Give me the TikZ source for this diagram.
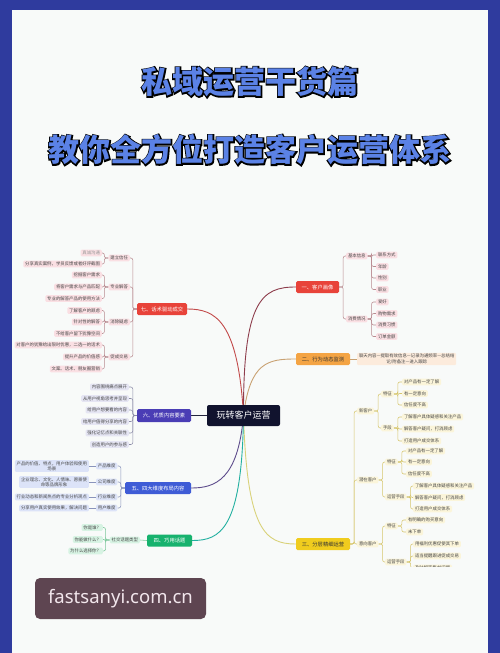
\documentclass[tikz,border=0pt]{standalone}
\usepackage{fontspec}
\newfontfamily\cjk{Noto Sans CJK SC}
\newfontfamily\cjkstroke{Noto Sans CJK SC}[FakeBold=8]
\newfontfamily\wmfont{Noto Sans}
\definecolor{pagebg}{HTML}{F8FAF9}
\definecolor{frameblue}{HTML}{2F3B9E}
\definecolor{titleblue}{HTML}{5B82E6}
\definecolor{cnode}{HTML}{11132E}
\definecolor{redn}{HTML}{E8433A}
\definecolor{orangen}{HTML}{F4A444}
\definecolor{yellown}{HTML}{F0CC1E}
\definecolor{purplen}{HTML}{4A3DB5}
\definecolor{bluen}{HTML}{3F5CD6}
\definecolor{greenn}{HTML}{17B26E}
\definecolor{pinkleaf}{HTML}{FADFE3}
\definecolor{creamleaf}{HTML}{FBF5DA}
\definecolor{orangeleaf}{HTML}{FCEBDC}
\definecolor{lavleaf}{HTML}{E5E5F3}
\definecolor{blueleaf}{HTML}{DCE3F8}
\definecolor{greenleaf}{HTML}{D7F3E3}
\definecolor{redline}{HTML}{B98A90}
\definecolor{yline}{HTML}{D6C66C}
\definecolor{pline}{HTML}{8C8CA8}
\definecolor{bline}{HTML}{8A94BC}
\definecolor{gline}{HTML}{7CC79A}
\definecolor{c7}{HTML}{C24A4A}
\definecolor{c1}{HTML}{8E3D4C}
\definecolor{c2}{HTML}{C9A273}
\definecolor{c3}{HTML}{D9D27A}
\definecolor{c5}{HTML}{5E4C8C}
\definecolor{c4}{HTML}{22B0A0}
\definecolor{c6}{HTML}{23253F}
\definecolor{wmbg}{HTML}{5E4551}
\definecolor{wmtext}{HTML}{F2E6EC}
\pgfdeclarelayer{back}
\pgfdeclarelayer{lines}
\pgfdeclarelayer{front}
\pgfsetlayers{back,lines,main,front}
\begin{document}
\begin{tikzpicture}[x=1pt,y=-1pt,
  titleback/.style={font=\cjkstroke\bfseries\fontsize{31}{31}\selectfont, inner sep=0pt, text=black},
  titlefont/.style={font=\cjk\bfseries\fontsize{31}{31}\selectfont, inner sep=0pt, text=titleblue},
  mainbox/.style={rounded corners=1.5pt, minimum height=12pt, inner sep=1pt,
    font=\cjk\fontsize{5.3}{6}\selectfont, text=white},
  leaf/.style={rounded corners=1.2pt, inner xsep=1.8pt, inner ysep=1.3pt,
    font=\cjk\fontsize{4.4}{5.2}\selectfont, text=black!72, align=center},
  conn/.style={line width=0.55pt, rounded corners=2pt},
  cv/.style={line width=0.9pt}]
\useasboundingbox (0,0) rectangle (500,653);
\begin{pgfonlayer}{back}
\fill[pagebg] (0,0) rectangle (500,653);
\end{pgfonlayer}

% title
\node[titleback] (tabk) at (250,82) {私域运营干货篇};
\node[titlefont] (ta) at (250,82) {私域运营干货篇};
\node[titleback] (tbbk) at (250,150) {教你全方位打造客户运营体系};
\node[titlefont] (tb) at (250,150) {教你全方位打造客户运营体系};

% center
\node[fill=cnode, rounded corners=2pt, minimum width=73pt, minimum height=21pt,
  text=white, font=\cjk\fontsize{9}{10}\selectfont] (c) at (243.5,415.5) {玩转客户运营};

% ---------- branch 1
\node[mainbox, fill=redn, minimum width=43pt] (n1) at (317.5,287) {一、客户画像};
\node[leaf, fill=pinkleaf, anchor=west] (n1a) at (346,256) {基本信息};
\node[leaf, fill=pinkleaf, anchor=west] (n1b) at (346,319) {消费情况};
\node[leaf, fill=pinkleaf, anchor=west] (n1a1) at (376,255) {联系方式};
\node[leaf, fill=pinkleaf, anchor=west] (n1a2) at (376,266.5) {年龄};
\node[leaf, fill=pinkleaf, anchor=west] (n1a3) at (376,278) {性别};
\node[leaf, fill=pinkleaf, anchor=west] (n1a4) at (376,289.5) {职业};
\node[leaf, fill=pinkleaf, anchor=west] (n1b1) at (376,302) {爱好};
\node[leaf, fill=pinkleaf, anchor=west] (n1b2) at (376,313.5) {购物需求};
\node[leaf, fill=pinkleaf, anchor=west] (n1b3) at (376,325) {消费习惯};
\node[leaf, fill=pinkleaf, anchor=west] (n1b4) at (376,336.5) {订单金额};

% ---------- branch 2
\node[mainbox, fill=orangen, minimum width=54pt, text=black!80] (n2) at (323,359) {二、行为动态监测};
\node[leaf, fill=orangeleaf, anchor=west] (n2a) at (357,359) {聊天内容—提取有效信息—记录沟通频率—总结结\\论/附备注—进入跟踪};

% ---------- branch 3
\node[mainbox, fill=yellown, minimum width=54pt, text=black!80] (n3) at (323,544) {三、分层精细运营};
\node[leaf, fill=creamleaf, anchor=west] (n3a) at (357,411) {新客户};
\node[leaf, fill=creamleaf, anchor=west] (n3b) at (357,480) {潜在客户};
\node[leaf, fill=creamleaf, anchor=west] (n3c) at (357,544) {意向客户};
\node[leaf, fill=creamleaf, anchor=west] (n3a1) at (381,394) {特征};
\node[leaf, fill=creamleaf, anchor=west] (n3a2) at (381,428) {手段};
\node[leaf, fill=creamleaf, anchor=west] (n3a11) at (402,382) {对产品有一定了解};
\node[leaf, fill=creamleaf, anchor=west] (n3a12) at (402,393.5) {有一定意向};
\node[leaf, fill=creamleaf, anchor=west] (n3a13) at (402,405) {信任度不高};
\node[leaf, fill=creamleaf, anchor=west] (n3a21) at (402,417) {了解客户具体疑惑和关注产品};
\node[leaf, fill=creamleaf, anchor=west] (n3a22) at (402,429) {解答客户疑问，打消顾虑};
\node[leaf, fill=creamleaf, anchor=west] (n3a23) at (402,441) {打造用户成交体系};
\node[leaf, fill=creamleaf, anchor=west] (n3b1) at (385,462) {特征};
\node[leaf, fill=creamleaf, anchor=west] (n3b2) at (385,497) {运营手段};
\node[leaf, fill=creamleaf, anchor=west] (n3b11) at (406,451) {对产品有一定了解};
\node[leaf, fill=creamleaf, anchor=west] (n3b12) at (406,462) {有一定意向};
\node[leaf, fill=creamleaf, anchor=west] (n3b13) at (406,474) {信任度不高};
\node[leaf, fill=creamleaf, anchor=west] (n3b21) at (413,486) {了解客户具体疑惑和关注产品};
\node[leaf, fill=creamleaf, anchor=west] (n3b22) at (413,497.5) {解答客户疑问，打消顾虑};
\node[leaf, fill=creamleaf, anchor=west] (n3b23) at (413,509) {打造用户成交体系};
\node[leaf, fill=creamleaf, anchor=west] (n3c1) at (385,526) {特征};
\node[leaf, fill=creamleaf, anchor=west] (n3c2) at (385,562) {运营手段};
\node[leaf, fill=creamleaf, anchor=west] (n3c11) at (406,520) {有明确的购买意向};
\node[leaf, fill=creamleaf, anchor=west] (n3c12) at (406,532) {未下单};
\node[leaf, fill=creamleaf, anchor=west] (n3c21) at (413,544) {用福利优惠促使其下单};
\node[leaf, fill=creamleaf, anchor=west] (n3c22) at (413,556) {适当提醒跟进促成交易};
\node[leaf, fill=creamleaf, anchor=west] (n3c23) at (413,568) {及时解答售前问题};

% ---------- branch 7
\node[mainbox, fill=redn, minimum width=50pt] (n7) at (162,309) {七、话术驱动成交};
\node[leaf, fill=pinkleaf, anchor=east] (n7a) at (130,258) {建立信任};
\node[leaf, fill=pinkleaf, anchor=east] (n7b) at (130,287) {专业解答};
\node[leaf, fill=pinkleaf, anchor=east] (n7c) at (130,322) {消除疑虑};
\node[leaf, fill=pinkleaf, anchor=east] (n7d) at (130,357) {促成交易};
\node[leaf, fill=pinkleaf, anchor=east, text=black!40] (n7a1) at (102,253) {真诚沟通};
\node[leaf, fill=pinkleaf, anchor=east] (n7a2) at (102,264) {分享真实案例，学员反馈或者好评截图};
\node[leaf, fill=pinkleaf, anchor=east] (n7b1) at (102,275) {挖掘客户需求};
\node[leaf, fill=pinkleaf, anchor=east] (n7b2) at (102,287) {将客户需求与产品匹配};
\node[leaf, fill=pinkleaf, anchor=east] (n7b3) at (102,298.5) {专业的解答产品的使用方法};
\node[leaf, fill=pinkleaf, anchor=east] (n7c1) at (102,310.5) {了解客户的顾虑};
\node[leaf, fill=pinkleaf, anchor=east] (n7c2) at (102,322) {针对性的解答};
\node[leaf, fill=pinkleaf, anchor=east] (n7c3) at (102,333.5) {不给客户留下犹豫空间};
\node[leaf, fill=pinkleaf, anchor=east] (n7d1) at (102,345) {对客户的犹豫给出限时优惠，二选一的话术};
\node[leaf, fill=pinkleaf, anchor=east] (n7d2) at (102,357) {提升产品的价值感};
\node[leaf, fill=pinkleaf, anchor=east] (n7d3) at (102,369) {文案、话术、朋友圈营销};

% ---------- branch 6
\node[mainbox, fill=purplen, minimum width=54pt, minimum height=13pt] (n6) at (164,415.5) {六、优质内容要素};
\node[leaf, fill=lavleaf, anchor=east] (n61) at (129,387) {内容围绕痛点展开};
\node[leaf, fill=lavleaf, anchor=east] (n62) at (129,398.5) {从用户视角思考并呈现};
\node[leaf, fill=lavleaf, anchor=east] (n63) at (129,410) {给用户想要看的内容};
\node[leaf, fill=lavleaf, anchor=east] (n64) at (129,421.5) {给用户值得分享的内容};
\node[leaf, fill=lavleaf, anchor=east] (n65) at (129,433) {强化记忆点和关联性};
\node[leaf, fill=lavleaf, anchor=east] (n66) at (129,444.5) {创造用户的参与感};

% ---------- branch 5
\node[mainbox, fill=bluen, minimum width=66pt] (n5) at (158,488) {五、四大维度布局内容};
\node[leaf, fill=blueleaf, anchor=east] (n5a) at (117.5,466) {产品维度};
\node[leaf, fill=blueleaf, anchor=east] (n5b) at (117.5,482) {公司维度};
\node[leaf, fill=blueleaf, anchor=east] (n5c) at (117.5,497) {行业维度};
\node[leaf, fill=blueleaf, anchor=east] (n5d) at (117.5,508) {用户维度};
\node[leaf, fill=blueleaf, anchor=east] (n5a1) at (89,466) {产品的价值、特点，用户体验和使用\\场景};
\node[leaf, fill=blueleaf, anchor=east] (n5b1) at (89,482) {企业理念、文化、人情味、愿景使\\命等品牌形象};
\node[leaf, fill=blueleaf, anchor=east] (n5c1) at (89,497) {行业动态和新闻热点的专业分析观点};
\node[leaf, fill=blueleaf, anchor=east] (n5d1) at (89,508) {分享用户真实使用效果，解决问题};

% ---------- branch 4
\node[mainbox, fill=greenn, minimum width=45pt] (n4) at (169.5,540.5) {四、巧用话题};
\node[leaf, fill=greenleaf, anchor=east] (n4a) at (140,540) {社交话题类型};
\node[leaf, fill=greenleaf, anchor=east] (n4a1) at (103,527.5) {你是谁？};
\node[leaf, fill=greenleaf, anchor=east] (n4a2) at (103,539.5) {你能做什么？};
\node[leaf, fill=greenleaf, anchor=east] (n4a3) at (103,551) {为什么选择你？};

% ---------- connectors
\begin{pgfonlayer}{lines}
\draw[cv, c7] (c.center) .. controls (238,320) and (215,309) .. (n7.east);
\draw[cv, c1] (c.center) .. controls (243,300) and (262,287) .. (n1.west);
\draw[cv, c2] (c.center) .. controls (250,362) and (268,359) .. (n2.west);
\draw[cv, c3] (c.center) .. controls (247,530) and (265,544) .. (n3.west);
\draw[cv, c5] (c.center) .. controls (238,480) and (215,488) .. (n5.east);
\draw[cv, c4] (c.center) .. controls (242,530) and (220,540.5) .. (n4.east);
\draw[cv, c6] (c.center) -- (n6.east);
% branch 1
\foreach \k in {n1a,n1b} \draw[conn, redline] (n1.east) -- ++(4,0) |- (\k.west);
\foreach \k in {n1a1,n1a2,n1a3,n1a4} \draw[conn, redline] (n1a.east) -- ++(4,0) |- (\k.west);
\foreach \k in {n1b1,n1b2,n1b3,n1b4} \draw[conn, redline] (n1b.east) -- ++(4,0) |- (\k.west);
% branch 2
\draw[conn, c2] (n2.east) -- (n2a.west);
% branch 3
\foreach \k in {n3a,n3b,n3c} \draw[conn, yline] (n3.east) -- ++(4,0) |- (\k.west);
\foreach \k in {n3a1,n3a2} \draw[conn, yline] (n3a.east) -- ++(4,0) |- (\k.west);
\foreach \k in {n3b1,n3b2} \draw[conn, yline] (n3b.east) -- ++(4,0) |- (\k.west);
\foreach \k in {n3c1,n3c2} \draw[conn, yline] (n3c.east) -- ++(4,0) |- (\k.west);
\foreach \k in {n3a11,n3a12,n3a13} \draw[conn, yline] (n3a1.east) -- ++(4,0) |- (\k.west);
\foreach \k in {n3a21,n3a22,n3a23} \draw[conn, yline] (n3a2.east) -- ++(4,0) |- (\k.west);
\foreach \k in {n3b11,n3b12,n3b13} \draw[conn, yline] (n3b1.east) -- ++(4,0) |- (\k.west);
\foreach \k in {n3b21,n3b22,n3b23} \draw[conn, yline] (n3b2.east) -- ++(4,0) |- (\k.west);
\foreach \k in {n3c11,n3c12} \draw[conn, yline] (n3c1.east) -- ++(4,0) |- (\k.west);
\foreach \k in {n3c21,n3c22,n3c23} \draw[conn, yline] (n3c2.east) -- ++(4,0) |- (\k.west);
% branch 7
\foreach \k in {n7a,n7b,n7c,n7d} \draw[conn, redline] (n7.west) -- ++(-4,0) |- (\k.east);
\foreach \k in {n7a1,n7a2} \draw[conn, redline] (n7a.west) -- ++(-4,0) |- (\k.east);
\foreach \k in {n7b1,n7b2,n7b3} \draw[conn, redline] (n7b.west) -- ++(-4,0) |- (\k.east);
\foreach \k in {n7c1,n7c2,n7c3} \draw[conn, redline] (n7c.west) -- ++(-4,0) |- (\k.east);
\foreach \k in {n7d1,n7d2,n7d3} \draw[conn, redline] (n7d.west) -- ++(-4,0) |- (\k.east);
% branch 6
\foreach \k in {n61,n62,n63,n64,n65,n66} \draw[conn, pline] (n6.west) -- ++(-4,0) |- (\k.east);
% branch 5
\foreach \k in {n5a,n5b,n5c,n5d} \draw[conn, bline] (n5.west) -- ++(-4,0) |- (\k.east);
\draw[conn, bline] (n5a.west) -- (n5a1.east);
\draw[conn, bline] (n5b.west) -- (n5b1.east);
\draw[conn, bline] (n5c.west) -- (n5c1.east);
\draw[conn, bline] (n5d.west) -- (n5d1.east);
% branch 4
\draw[conn, gline] (n4.west) -- (n4a.east);
\foreach \k in {n4a1,n4a2,n4a3} \draw[conn, gline] (n4a.west) -- ++(-4,0) |- (\k.east);
\end{pgfonlayer}

\begin{pgfonlayer}{front}
\fill[pagebg] (12,567) rectangle (488,653);
\fill[frameblue] (0,0) rectangle (500,10);
\fill[frameblue] (0,0) rectangle (12,653);
\fill[frameblue] (488,0) rectangle (500,653);
\node[fill=wmbg, rounded corners=5pt, minimum width=171pt, minimum height=41pt,
  inner sep=0pt, text=wmtext, font=\wmfont\fontsize{18.5}{20}\selectfont] (wm) at (120.5,598.5) {fastsanyi.com.cn};
\end{pgfonlayer}
\end{tikzpicture}
\end{document}
